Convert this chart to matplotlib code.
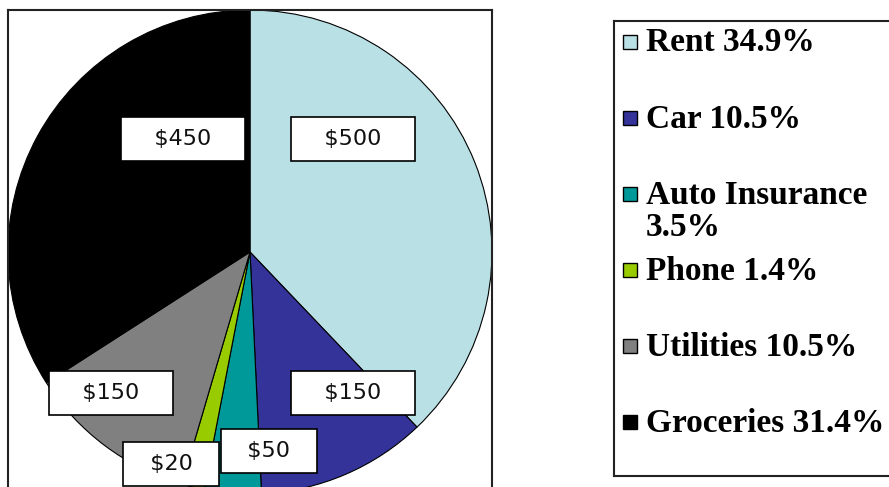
import matplotlib
matplotlib.use("Agg")
from matplotlib import pyplot as plt

# data
categories = ["Rent", "Car", "Auto Insurance", "Phone", "Utilities", "Groceries"]
amounts = [500, 150, 50, 20, 150, 450]
percent_labels = ["34.9%", "10.5%", "3.5%", "1.4%", "10.5%", "31.4%"]
colors = ["#B9E0E4", "#333399", "#009999", "#99CC00", "#808080", "#000000"]
# where each value box sits (pie data coords, radius 1)
label_pos = [(0.426, 0.467), (0.426, -0.583), (0.079, -0.822),
             (-0.326, -0.875), (-0.574, -0.583), (-0.277, 0.467)]
# legend text, Auto Insurance wraps in the original
legend_text = ["Rent 34.9%", "Car 10.5%", "Auto Insurance\n3.5%",
               "Phone 1.4%", "Utilities 10.5%", "Groceries 31.4%"]

W, H = 889, 487
fig = plt.figure(figsize=(W / 100, H / 100), dpi=100)

#pie box: x 8..492, pie centre at (250, 252) px from top-left
ax = fig.add_axes([8 / W, (H - 494) / H, 484 / W, 484 / H])
ax.pie(amounts, colors=colors, startangle=90, counterclock=False,
       wedgeprops=dict(edgecolor="black", linewidth=0.8))
ax.set_xlim(-1, 1)
ax.set_ylim(-1, 1)
ax.set_frame_on(True)
ax.set_xticks([])
ax.set_yticks([])
for s in ax.spines.values():
    s.set_linewidth(1.5)
    s.set_edgecolor("#222222")

for amt, (lx, ly) in zip(amounts, label_pos):
    pad = "   " if amt >= 100 else "  "
    ax.text(lx, ly, pad + f"${amt}" + pad, ha="center", va="center",
            fontsize=16, family="DejaVu Sans", color="#111111",
            bbox=dict(boxstyle="square,pad=0.55", fc="white", ec="black", lw=1.2),
            zorder=5)

#legend box (right side runs off the picture like the original)
lax = fig.add_axes([614 / W, (H - 476) / H, 340 / W, 455 / H])
lax.set_xlim(0, 340)
lax.set_ylim(455, 0)
lax.set_xticks([])
lax.set_yticks([])
for s in lax.spines.values():
    s.set_linewidth(1.5)
    s.set_edgecolor("#222222")

row_top = 21
row_step = 76
line_step = 33
for i, (txt, col) in enumerate(zip(legend_text, colors)):
    y = row_top + i * row_step
    lax.plot([15.5], [y], marker="s", ms=10.5, mfc=col, mec="black", mew=1.0,
             linestyle="none")
    for k, line in enumerate(txt.split("\n")):
        lax.text(32, y + k * line_step + 1, line, ha="left", va="center",
                 fontsize=24, family="Liberation Serif", fontweight="bold",
                 color="black")

fig.savefig("out.png", dpi=100)
